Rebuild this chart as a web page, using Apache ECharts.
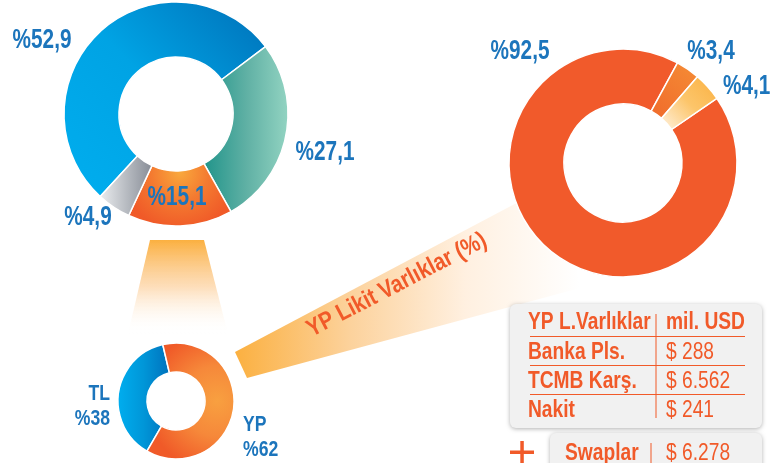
<!DOCTYPE html>
<html>
<head>
<meta charset="utf-8">
<title>YP Likit Varlıklar</title>
<script src="https://cdn.jsdelivr.net/npm/echarts@6/dist/echarts.min.js"></script>
<style>
  html, body { margin: 0; padding: 0; background: #fff; }
  #chart { width: 775px; height: 463px; }
</style>
</head>
<body>
<div id="chart"></div>
<script>
// ------------------------------ data ------------------------------
// sol üst halka (%)
const mainNames = ['Mavi', 'Yeşil', 'Turuncu', 'Gri']
const mainValues = [52.9, 27.1, 15.1, 4.9]

// küçük halka TL / YP (%)
const splitNames = ['TL', 'YP']
const splitValues = [38, 62]

// YP likit varlıklar tablosu (mil. USD)
const tableHeader = ['YP L.Varlıklar', 'mil. USD']
const tableNames = ['Banka Pls.', 'TCMB Karş.', 'Nakit']
const tableValues = [288, 6562, 241]
const swapName = 'Swaplar'
const swapValue = 6278

// halkada dilim sırası (saat yönünde)
const ringOrder = [1, 2, 0]

const BLUE_TEXT = '#1c75bc'
const ORANGE_TEXT = '#f15a29'
const FONT = '"Liberation Sans", Arial, sans-serif'

function lin (x0, y0, x1, y1, stops) {
  return new echarts.graphic.LinearGradient(x0, y0, x1, y1,
    stops.map(function (c, i) { return { offset: i / (stops.length - 1), color: c } }))
}
function rad (x, y, r, stops) {
  return new echarts.graphic.RadialGradient(x, y, r,
    stops.map(function (c, i) { return { offset: i / (stops.length - 1), color: c } }))
}
function pct (v) {
  return '%' + v.toFixed(1).replace('.', ',')
}
function money (v) {
  return '$ ' + String(v).replace(/\B(?=(\d{3})+(?!\d))/g, '.')
}

// dar (condensed) yazı: font yok, yatayda sıkıştırıyoruz
function txt (text, x, y, opt) {
  return {
    type: 'text',
    z: opt.z || 5,
    x: x,
    y: y,
    scaleX: opt.sx || 0.8,
    rotation: opt.rot || 0,
    style: {
      text: text,
      font: (opt.bold === false ? '' : 'bold ') + opt.size + 'px ' + FONT,
      fill: opt.color,
      align: opt.align || 'left',
      verticalAlign: 'middle',
      lineHeight: opt.lh
    }
  }
}

// dilim renkleri
const mainColors = [
  lin(0, 1, 1, 0, ['#00aeef', '#00a3e4', '#0070b8']),
  lin(0, 0.5, 1, 0.5, ['#20948a', '#5fb0a4', '#93d4c2']),
  rad(0.5, 0.15, 0.9, ['#f9a83c', '#f47a30', '#f05a28']),
  lin(0, 0.5, 1, 0.5, ['#eceef0', '#b8bcc2', '#868b95'])
]
const ringColors = [
  '#f15a2b',
  lin(0, 1, 1, 0, ['#f06a2b', '#f58d35']),
  lin(0, 1, 1, 0, ['#fff3e2', '#fcc56a', '#fbb040'])
]
const splitColors = [
  lin(0, 0.5, 1, 0.5, ['#00aeef', '#0096d8', '#0071bc']),
  rad(0.8, 0.5, 0.8, ['#f8a040', '#f6883a', '#f05a28'])
]

// etiket konumları
const mainLabelPos = [[42, 41, 'center'], [325, 153, 'center'], [177, 198, 'center'], [88, 218, 'center']]
const ringLabelPos = [[520, 52, 'center'], [711, 52, 'center'], [723, 87, 'left']]
const splitLabelPos = [[110, 406, 'right'], [243, 437, 'left']]

const pieBase = {
  type: 'pie',
  clockwise: true,
  avoidLabelOverlap: false,
  silent: true,
  itemStyle: { borderColor: '#fff', borderWidth: 1.5 },
  label: { show: false },
  labelLine: { show: false }
}

// ------------------------------ graphic ------------------------------
const graphics = []

// sol huni
graphics.push({
  type: 'polygon',
  z: 0,
  shape: { points: [[150, 240], [204, 240], [228, 334], [128, 334]] },
  style: { fill: lin(0, 0, 0, 1, ['#fbb040', 'rgba(252,200,140,0.6)', 'rgba(255,255,255,0)']) }
})
// sağa uzanan huni
graphics.push({
  type: 'polygon',
  z: 0,
  shape: { points: [[235, 352], [560, 180], [580, 288], [247, 378]] },
  style: { fill: lin(0, 0.5, 1, 0.5, ['#fbb040', '#fcd29c', '#fff0e0', '#ffffff']) }
})
// eğik başlık
graphics.push(txt('YP Likit Varlıklar (%)', 397, 285, {
  size: 24.5, sx: 0.84, color: ORANGE_TEXT, align: 'center', rot: 27.5 * Math.PI / 180
}))

// halka etiketleri
mainValues.forEach(function (v, i) {
  const p = mainLabelPos[i]
  graphics.push(txt(pct(v), p[0], p[1], { size: 27, sx: 0.77, color: BLUE_TEXT, align: p[2] }))
})
const tableSum = tableValues.reduce(function (a, b) { return a + b }, 0)
ringOrder.forEach(function (k, i) {
  const p = ringLabelPos[i]
  graphics.push(txt(pct(tableValues[k] / tableSum * 100), p[0], p[1], { size: 27, sx: 0.77, color: BLUE_TEXT, align: p[2] }))
})
splitValues.forEach(function (v, i) {
  const p = splitLabelPos[i]
  graphics.push(txt(splitNames[i] + '\n%' + v, p[0], p[1], { size: 22, sx: 0.8, lh: 25, color: BLUE_TEXT, align: p[2] }))
})

// tablo kutusu
graphics.push({
  type: 'rect',
  z: 10,
  shape: { x: 510, y: 304, width: 252, height: 124, r: 6 },
  style: { fill: '#f1f1f1', shadowBlur: 4, shadowColor: 'rgba(0,0,0,0.3)', shadowOffsetY: 1 }
})
const headerY = 322
const rowY0 = 352
const rowStep = 29
const TS = { size: 24, sx: 0.8, color: ORANGE_TEXT, z: 11 }
graphics.push(txt(tableHeader[0], 528, headerY, TS))
graphics.push(txt(tableHeader[1], 666, headerY, TS))
tableNames.forEach(function (name, i) {
  const y = rowY0 + i * rowStep
  graphics.push({
    type: 'rect', z: 11,
    shape: { x: 530, y: y - 16, width: 215, height: 1 },
    style: { fill: ORANGE_TEXT }
  })
  graphics.push(txt(name, 528, y, TS))
  graphics.push(txt(money(tableValues[i]), 666, y, Object.assign({}, TS, { bold: false })))
})
graphics.push({
  type: 'rect', z: 11,
  shape: { x: 655.5, y: 314, width: 1, height: 104 },
  style: { fill: ORANGE_TEXT }
})

// swap kutusu
graphics.push({
  type: 'rect',
  z: 10,
  shape: { x: 550, y: 433, width: 212, height: 50, r: 6 },
  style: { fill: '#f1f1f1', shadowBlur: 4, shadowColor: 'rgba(0,0,0,0.3)', shadowOffsetY: 1 }
})
graphics.push(txt(swapName, 565, 453, TS))
graphics.push({
  type: 'rect', z: 11,
  shape: { x: 650.5, y: 443, width: 1, height: 22 },
  style: { fill: ORANGE_TEXT }
})
graphics.push(txt(money(swapValue), 666, 453, Object.assign({}, TS, { bold: false })))
// artı işareti
graphics.push({
  type: 'rect', z: 11,
  shape: { x: 510, y: 450.5, width: 24, height: 3.5 },
  style: { fill: ORANGE_TEXT }
})
graphics.push({
  type: 'rect', z: 11,
  shape: { x: 520.3, y: 441, width: 3.5, height: 24 },
  style: { fill: ORANGE_TEXT }
})

// ------------------------------ option ------------------------------
const option = {
  animation: false,
  graphic: graphics,
  series: [
    Object.assign({}, pieBase, {
      center: [176, 114],
      radius: [57, 112],
      startAngle: 227.4,
      data: mainValues.map(function (v, i) {
        return { name: mainNames[i], value: v, itemStyle: { color: mainColors[i] } }
      })
    }),
    Object.assign({}, pieBase, {
      center: [623, 163],
      radius: [59, 114],
      startAngle: 34.6,
      data: ringOrder.map(function (k, i) {
        return { name: tableNames[k], value: tableValues[k], itemStyle: { color: ringColors[i] } }
      })
    }),
    Object.assign({}, pieBase, {
      center: [176, 401],
      radius: [29, 58],
      startAngle: 240,
      data: splitValues.map(function (v, i) {
        return { name: splitNames[i], value: v, itemStyle: { color: splitColors[i] } }
      })
    })
  ]
}

const myChart = echarts.init(document.getElementById('chart'))
myChart.setOption(option)
</script>
</body>
</html>
